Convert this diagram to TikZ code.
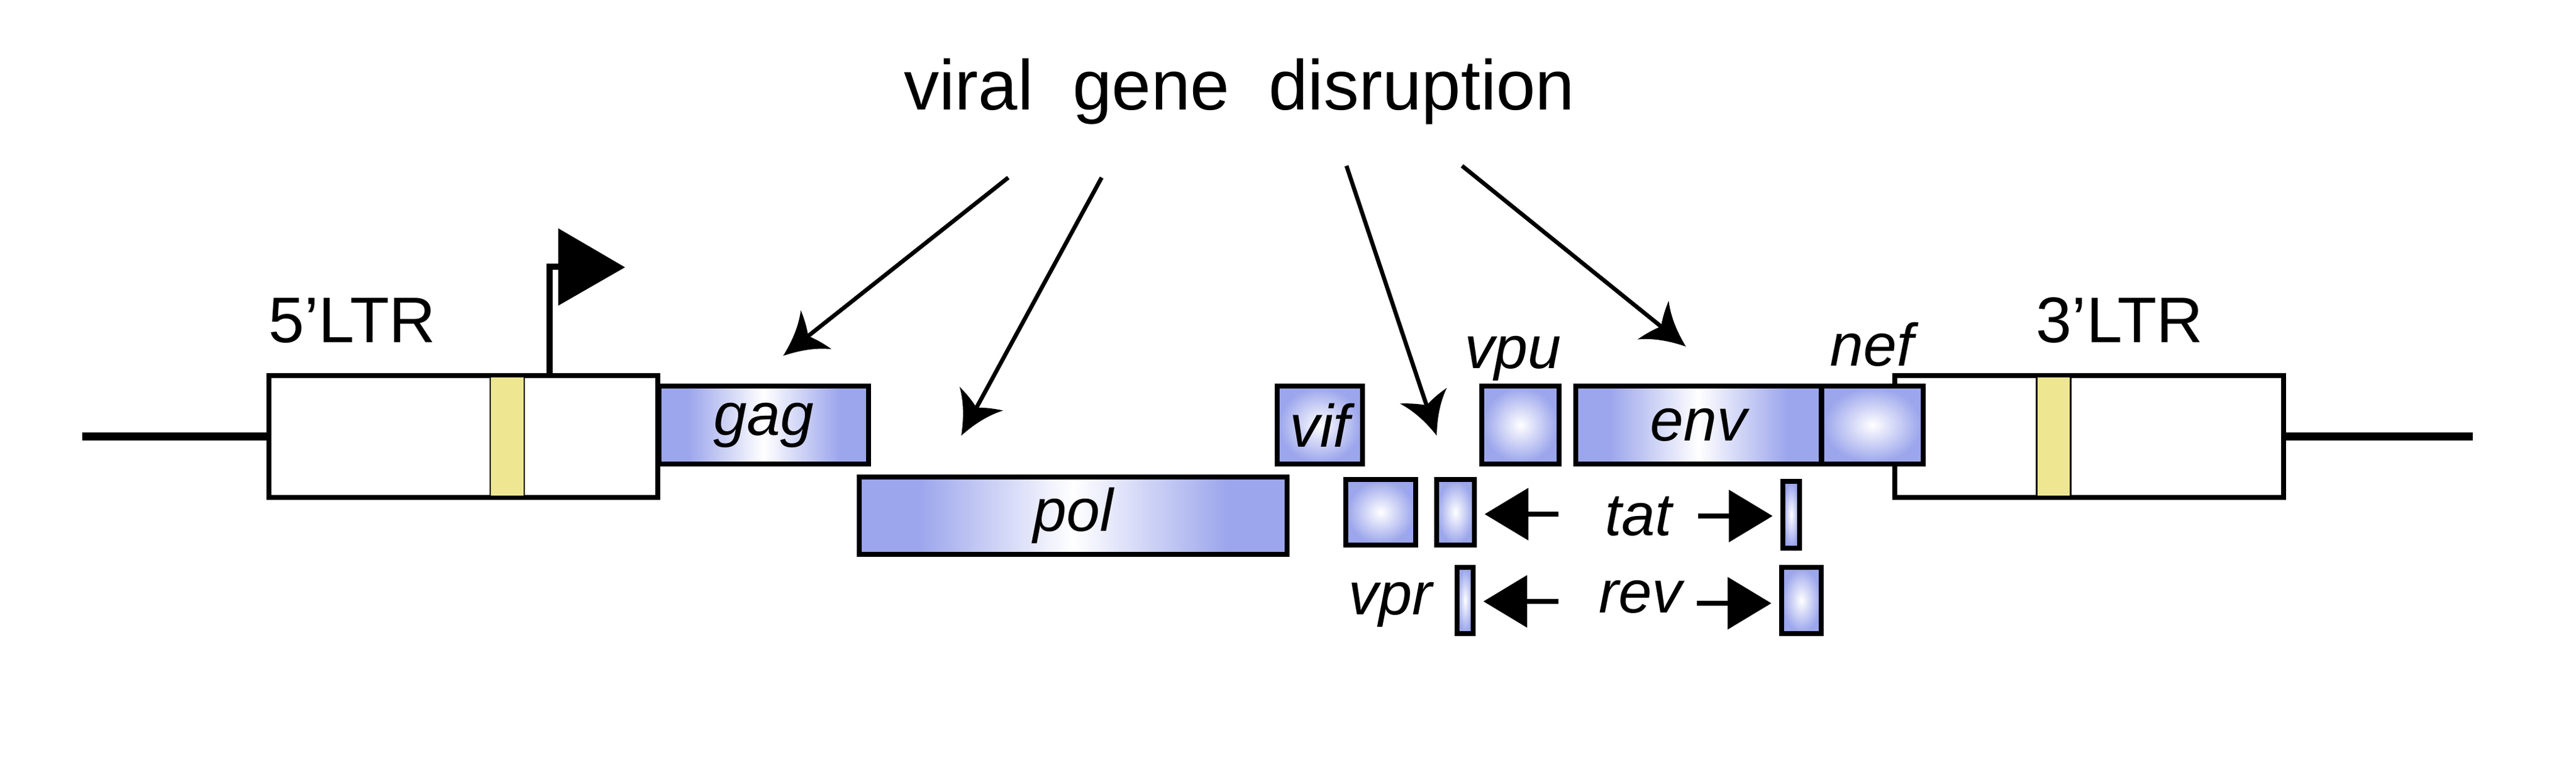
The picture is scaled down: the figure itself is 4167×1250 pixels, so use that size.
\documentclass[tikz,border=0pt]{standalone}
\usepackage{fontspec}
\setmainfont{Liberation Sans}
\usetikzlibrary{arrows.meta}
\definecolor{geneblue}{RGB}{156,166,236}
\definecolor{ltryellow}{RGB}{238,230,144}
\pgfdeclarehorizontalshading{genelin}{100bp}{color(0bp)=(geneblue); color(32bp)=(geneblue); color(50bp)=(white); color(68bp)=(geneblue); color(100bp)=(geneblue)}
\pgfdeclareradialshading{generad}{\pgfpoint{0bp}{0bp}}{color(0bp)=(white); color(24bp)=(geneblue); color(50bp)=(geneblue)}
\newcommand\vgTitleFont{\fontsize{27.4pt}{32pt}\selectfont}
\newcommand\vgLtrFont{\fontsize{25pt}{30pt}\selectfont}
\newcommand\vgGeneFont{\fontsize{23.3pt}{28pt}\selectfont\itshape}
\pgfdeclarearrow{
  name = Swoosh,
  parameters = {\the\pgfarrowlength},
  setup code = {
    \pgfarrowssettipend{0pt}
    \pgfarrowssetlineend{-0.7\pgfarrowlength}
    \pgfarrowssetbackend{-\pgfarrowlength}
    \pgfarrowshullpoint{0pt}{0pt}
    \pgfarrowshullpoint{-\pgfarrowlength}{0.59\pgfarrowlength}
    \pgfarrowshullpoint{-\pgfarrowlength}{-0.59\pgfarrowlength}
    \pgfarrowssavethe\pgfarrowlength
  },
  drawing code = {
    \pgfpathmoveto{\pgfpointorigin}
    \pgfpathcurveto{\pgfpoint{-0.35\pgfarrowlength}{0.13\pgfarrowlength}}{\pgfpoint{-0.7\pgfarrowlength}{0.3\pgfarrowlength}}{\pgfpoint{-\pgfarrowlength}{0.59\pgfarrowlength}}
    \pgfpathcurveto{\pgfpoint{-0.9\pgfarrowlength}{0.25\pgfarrowlength}}{\pgfpoint{-0.8\pgfarrowlength}{0.08\pgfarrowlength}}{\pgfpoint{-0.76\pgfarrowlength}{0pt}}
    \pgfpathcurveto{\pgfpoint{-0.8\pgfarrowlength}{-0.08\pgfarrowlength}}{\pgfpoint{-0.9\pgfarrowlength}{-0.25\pgfarrowlength}}{\pgfpoint{-\pgfarrowlength}{-0.59\pgfarrowlength}}
    \pgfpathcurveto{\pgfpoint{-0.7\pgfarrowlength}{-0.3\pgfarrowlength}}{\pgfpoint{-0.35\pgfarrowlength}{-0.13\pgfarrowlength}}{\pgfpointorigin}
    \pgfpathclose
    \pgfusepathqfill
  },
  defaults = {length = 16pt}
}
\begin{document}
\begin{tikzpicture}[x=0.24pt,y=-0.24pt,
  genebox/.style={rectangle, draw=black, line width=1.92pt, inner sep=0pt, font=\vgGeneFont},
  radgene/.style={genebox, shade, shading=generad},
  lingene/.style={genebox, shade, shading=genelin},
  ltrbox/.style={rectangle, draw=black, fill=white, line width=1.92pt, inner sep=0pt, minimum width=150.96pt, minimum height=47.28pt},
  band/.style={rectangle, fill=ltryellow, draw=black, line width=0.7pt, inner sep=0pt, minimum width=13.2pt, minimum height=46.6pt},
  backbone/.style={line width=2.9pt},
  polestyle/.style={line width=2.6pt, miter limit=10},
  pointer/.style={line width=1.6pt, -{Swoosh[length=16.3pt]}},
  dirarrow/.style={line width=2pt, -{Triangle[length=17pt,width=19.9pt]}, shorten >=3pt},
  lbl/.style={font=\vgGeneFont, anchor=base, inner sep=0pt},
  ltrlbl/.style={font=\vgLtrFont, anchor=base, inner sep=0pt},
  titlelbl/.style={font=\vgTitleFont, anchor=base, inner sep=0pt}
]
\useasboundingbox (0,0) rectangle (4167,1250);

% title
\node[titlelbl] (title) at (2005,177.5) {viral~~gene~~disruption};

% LTRs
\node[ltrbox] (ltr5) at (749.5,705.5) {};
\node[band] (band5) at (820.5,705.5) {};
\node[ltrbox] (ltr3) at (3379.5,705.5) {};
\node[band] (band3) at (3322,705.5) {};
\node[ltrlbl] (ltr5lbl) at (570,553.5) {5'LTR};
\node[ltrlbl] (ltr3lbl) at (3429,553.5) {3'LTR};

% backbone
\coordinate (leftend) at (133,705.5);
\coordinate (rightend) at (4000,705.5);
\draw[backbone] (leftend) -- (ltr5.west);
\draw[backbone] (ltr3.east) -- (rightend);

% promoter flag
\coordinate (poletop) at (889,431);
\coordinate (flagbase) at (903,431);
\coordinate (flagtip) at (1011,432);
\draw[polestyle] (poletop |- ltr5.north) -- (poletop) -- (flagbase);
\fill (903,369) -- (flagtip) -- (903,494) -- cycle;

% genes, first row
\node[lingene, minimum width=81.36pt, minimum height=30.24pt] (gag) at (1235.5,687) {gag};
\node[radgene, minimum width=33.12pt, minimum height=30.24pt] (vif) at (2135,687) {vif};
\node[radgene, minimum width=30pt, minimum height=30.24pt] (vpu) at (2459.5,687) {};
\node[lingene, minimum width=95.28pt, minimum height=30.24pt] (env) at (2747.5,687) {env};
\node[radgene, minimum width=39.36pt, minimum height=30.24pt] (nef) at (3029,687) {};
\node[lbl] (vpulbl) at (2447.5,595) {vpu};
\node[lbl] (neflbl) at (3028,591) {nef};

% pol
\node[lingene, minimum width=166.08pt, minimum height=30pt] (pol) at (1736,833.5) {pol};

% tat row
\node[radgene, minimum width=27.12pt, minimum height=25.44pt] (tatA) at (2233.5,828) {};
\node[radgene, minimum width=14.64pt, minimum height=25.44pt] (tatB) at (2354.5,828) {};
\node[radgene, minimum width=6.48pt, minimum height=25.92pt] (tatC) at (2897.5,832) {};
\node[lbl] (tatlbl) at (2650,865) {tat};
\coordinate (tatLtail) at (2521,831);
\coordinate (tatRtail) at (2747,834);
\draw[dirarrow] (tatLtail) -- (tatLtail -| tatB.east);
\draw[dirarrow] (tatRtail) -- (tatRtail -| tatC.west);

% rev row
\node[radgene, minimum width=6.24pt, minimum height=25.68pt] (vprbox) at (2370,970.5) {};
\node[radgene, minimum width=15.36pt, minimum height=25.68pt] (revbox) at (2914,970.5) {};
\node[lbl] (vprlbl) at (2249,993) {vpr};
\node[lbl] (revlbl) at (2654,990) {rev};
\coordinate (revLtail) at (2521,972);
\coordinate (revRtail) at (2745,975);
\draw[dirarrow] (revLtail) -- (revLtail -| vprbox.east);
\draw[dirarrow] (revRtail) -- (revRtail -| revbox.west);

% disruption pointers
\coordinate (p1s) at (1631,287);
\coordinate (p1e) at (1267,575);
\coordinate (p2s) at (1782,287);
\coordinate (p2e) at (1555,704);
\coordinate (p3s) at (2178,268);
\coordinate (p3e) at (2324,704);
\coordinate (p4s) at (2365,268);
\coordinate (p4e) at (2727,560);
\draw[pointer] (p1s) -- (p1e);
\draw[pointer] (p2s) -- (p2e);
\draw[pointer] (p3s) -- (p3e);
\draw[pointer] (p4s) -- (p4e);
\end{tikzpicture}
\end{document}
